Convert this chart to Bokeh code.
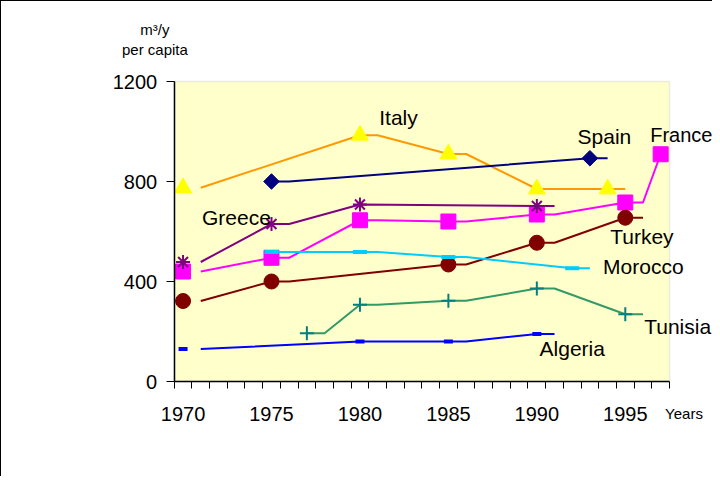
import math
from bokeh.plotting import figure
from bokeh.models import FixedTicker, Label, Range1d, BoxAnnotation
from bokeh.embed import file_html
from bokeh.resources import INLINE

FONT = "Liberation Sans"

# ---- data ----
year_labels = [1970, 1975, 1980, 1985, 1990, 1995]
year_bounds = [1969.5 + k for k in range(29)]
value_ticks = [0, 400, 800, 1200]
x_extent = (1969.5, 1997.5)
y_extent = (0, 1200)

italy_mark_years = [1970, 1980, 1985, 1990, 1994]
italy_mark_vals = [775, 985, 910, 770, 770]
italy_line_years = [1971, 1980, 1981, 1985, 1986, 1990, 1995]
italy_line_vals = [775, 985, 985, 910, 910, 770, 770]

spain_mark_years = [1975, 1993]
spain_mark_vals = [800, 893]
spain_line_years = [1975, 1976, 1993, 1994]
spain_line_vals = [800, 800, 893, 893]

france_mark_years = [1970, 1975, 1980, 1985, 1990, 1995, 1997]
france_mark_vals = [440, 495, 645, 640, 668, 716, 909]
france_line_years = [1971, 1975, 1976, 1980, 1981, 1985, 1986, 1990, 1991, 1995, 1996, 1997]
france_line_vals = [440, 495, 495, 645, 645, 640, 640, 668, 668, 716, 716, 909]

greece_mark_years = [1970, 1975, 1980, 1990]
greece_mark_vals = [478, 630, 708, 702]
greece_line_years = [1971, 1975, 1976, 1980, 1990, 1991]
greece_line_vals = [478, 630, 630, 708, 702, 702]

turkey_mark_years = [1970, 1975, 1985, 1990, 1995]
turkey_mark_vals = [322, 400, 468, 555, 655]
turkey_line_years = [1971, 1975, 1976, 1985, 1986, 1990, 1991, 1995, 1996]
turkey_line_vals = [322, 400, 400, 468, 468, 555, 555, 655, 655]

morocco_mark_years = [1975, 1980, 1985, 1992]
morocco_mark_vals = [518, 518, 498, 453]
morocco_line_years = [1975, 1980, 1981, 1985, 1986, 1992, 1993]
morocco_line_vals = [518, 518, 518, 498, 498, 453, 453]

tunisia_mark_years = [1977, 1980, 1985, 1990, 1995]
tunisia_mark_vals = [193, 307, 323, 372, 269]
tunisia_line_years = [1977, 1978, 1980, 1981, 1985, 1986, 1990, 1991, 1995, 1996]
tunisia_line_vals = [193, 193, 307, 307, 323, 323, 372, 372, 269, 269]

algeria_mark_years = [1970, 1980, 1985, 1990]
algeria_mark_vals = [130, 160, 160, 190]
algeria_line_years = [1971, 1980, 1985, 1986, 1990, 1991]
algeria_line_vals = [130, 160, 160, 160, 190, 190]

# ---- figure ----
# frame spans most of the canvas; the axes sit at fixed locations inside it
p = figure(frame_width=611, frame_height=425, output_backend="svg", toolbar_location=None,
           x_range=Range1d(1965.39, 1999.93), y_range=Range1d(-180, 1520),
           min_border_left=100, min_border_top=0, min_border_right=0, min_border_bottom=50)
p.styles = {"border-left": "1px solid black", "border-top": "1px solid black"}
p.background_fill_color = "white"
p.border_fill_color = "white"
p.outline_line_color = None
p.xgrid.visible = False
p.ygrid.visible = False

p.add_layout(BoxAnnotation(left=x_extent[0], right=x_extent[1], bottom=y_extent[0], top=y_extent[1],
                           fill_color="#FFFFCC", fill_alpha=1.0, line_color="#C0C0C0",
                           line_width=1.5, level="underlay"))

xa = p.xaxis[0]
xa.fixed_location = y_extent[0]
xa.bounds = x_extent
xa.ticker = FixedTicker(ticks=year_labels, minor_ticks=year_bounds)
xa.major_tick_line_color = None
xa.major_tick_out = 0
xa.major_tick_in = 0
xa.minor_tick_out = 7
xa.minor_tick_in = 0
xa.minor_tick_line_color = "black"
xa.axis_line_color = "black"
xa.axis_line_width = 1.5
xa.major_label_text_font = FONT
xa.major_label_text_font_size = "20px"
xa.major_label_text_color = "black"
xa.major_label_standoff = 18

ya = p.yaxis[0]
ya.fixed_location = x_extent[0]
ya.bounds = y_extent
ya.ticker = FixedTicker(ticks=value_ticks)
ya.minor_tick_line_color = None
ya.major_tick_out = 8
ya.major_tick_in = 0
ya.major_tick_line_color = "black"
ya.axis_line_color = "black"
ya.axis_line_width = 1.5
ya.major_label_text_font = FONT
ya.major_label_text_font_size = "20px"
ya.major_label_text_color = "black"
ya.major_label_standoff = 9

def series(ly, lv, my, mv, line_color, marker, mcolor, size, lw_marker=1, angle=0.0):
    p.line(ly, lv, line_color=line_color, line_width=2)
    if marker in ("asterisk", "cross", "dash"):
        p.scatter(my, mv, marker=marker, size=size, line_color=mcolor,
                  line_width=lw_marker, angle=angle)
    else:
        p.scatter(my, mv, marker=marker, size=size, fill_color=mcolor,
                  line_color=mcolor, angle=angle)

series(italy_line_years, italy_line_vals, italy_mark_years, italy_mark_vals,
       "#FF9900", "triangle", "#FFFF00", 17)
series(spain_line_years, spain_line_vals, spain_mark_years, spain_mark_vals,
       "#000080", "square", "#000080", 11, angle=math.pi / 4)
series(france_line_years, france_line_vals, france_mark_years, france_mark_vals,
       "#FF00FF", "square", "#FF00FF", 15)
series(greece_line_years, greece_line_vals, greece_mark_years, greece_mark_vals,
       "#800080", "asterisk", "#800080", 14, lw_marker=2)
series(turkey_line_years, turkey_line_vals, turkey_mark_years, turkey_mark_vals,
       "#800000", "circle", "#800000", 15)
series(morocco_line_years, morocco_line_vals, morocco_mark_years, morocco_mark_vals,
       "#00CCFF", "dash", "#00CCFF", 14, lw_marker=4)
series(tunisia_line_years, tunisia_line_vals, tunisia_mark_years, tunisia_mark_vals,
       "#339966", "cross", "#008080", 14, lw_marker=2)
series(algeria_line_years, algeria_line_vals, algeria_mark_years, algeria_mark_vals,
       "#0000FF", "dash", "#0000FF", 9, lw_marker=4)

def lab(text, x, y, size="21px", align="center"):
    p.add_layout(Label(x=x, y=y, text=text, text_font=FONT, text_font_size=size,
                       text_color="black", text_align=align, text_baseline="middle"))

lab("Italy", 1982.18, 1057)
lab("Spain", 1993.82, 981)
lab("France", 1996.41, 985, size="20px", align="left")
lab("Greece", 1973.02, 655)
lab("Turkey", 1995.94, 580)
lab("Morocco", 1996.02, 460)
lab("Tunisia", 1996.07, 221, align="left")
lab("Algeria", 1992.0, 134)
lab("m³/y", 1968.41, 1407, size="15px")
lab("per capita", 1968.41, 1327, size="15px")
lab("Years", 1998.32, -129, size="15px")

open("out.html", "w").write(file_html(p, INLINE))
